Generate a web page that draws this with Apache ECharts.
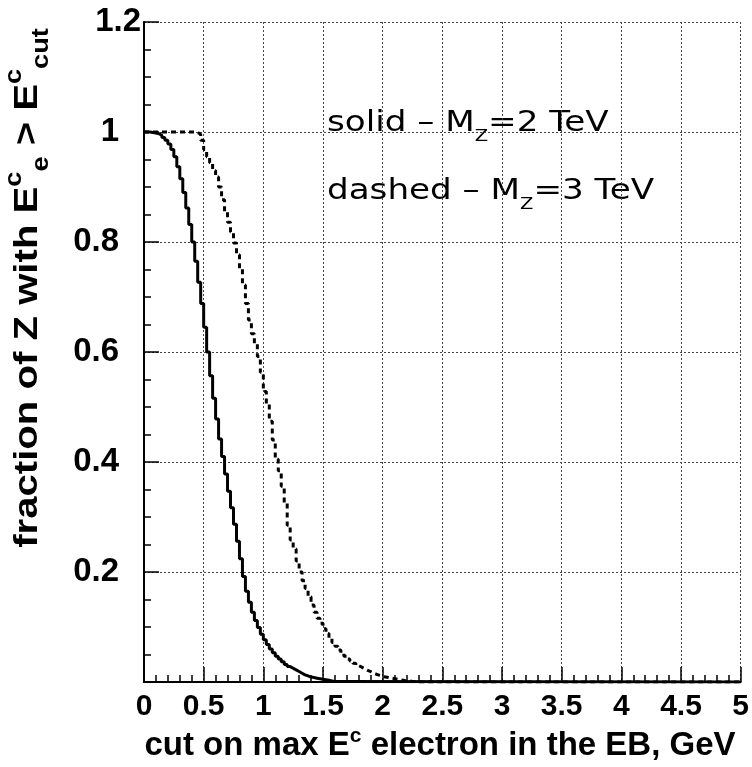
<!DOCTYPE html>
<html>
<head>
<meta charset="utf-8">
<script src="https://cdn.jsdelivr.net/npm/echarts@6/dist/echarts.min.js"></script>
<style>
  html, body { margin: 0; padding: 0; background: #fff; }
  #main { width: 752px; height: 767px; }
</style>
</head>
<body>
<div id="main"></div>
<script>
// histogram bins, low edges at i * binWidth
var binWidth = 0.025;

// solid - M_Z = 2 TeV
var solid2TeV = [
  1.000, 1.000, 0.999, 0.998, 0.997, 0.994, 0.990, 0.985, 0.978, 0.968,
  0.955, 0.937, 0.915, 0.890, 0.862, 0.832, 0.800, 0.765, 0.727, 0.688,
  0.645, 0.600, 0.557, 0.516, 0.478, 0.442, 0.410, 0.378, 0.347, 0.317,
  0.287, 0.256, 0.224, 0.192, 0.165, 0.145, 0.127, 0.112, 0.099, 0.087,
  0.077, 0.068, 0.060, 0.053, 0.047, 0.042, 0.037, 0.032, 0.028, 0.025,
  0.022, 0.019, 0.016, 0.013, 0.011, 0.009, 0.008, 0.007, 0.006, 0.005,
  0.004, 0.003, 0.002, 0.001, 0.001, 0.000
];

// dashed - M_Z = 3 TeV
var dashed3TeV = [
  1.000, 1.000, 1.000, 1.000, 1.000, 1.000, 1.000, 1.000, 1.000, 1.000,
  1.000, 1.000, 1.000, 1.000, 1.000, 1.000, 1.000, 0.999, 0.996, 0.985,
  0.968, 0.955, 0.944, 0.930, 0.918, 0.900, 0.877, 0.855, 0.836, 0.818,
  0.798, 0.777, 0.752, 0.722, 0.688, 0.658, 0.633, 0.615, 0.592, 0.563,
  0.528, 0.505, 0.474, 0.440, 0.405, 0.384, 0.356, 0.326, 0.285, 0.258,
  0.242, 0.220, 0.200, 0.184, 0.170, 0.155, 0.140, 0.127, 0.116, 0.107,
  0.097, 0.088, 0.080, 0.072, 0.065, 0.058, 0.052, 0.047, 0.042, 0.038,
  0.034, 0.030, 0.027, 0.024, 0.021, 0.019, 0.016, 0.014, 0.012, 0.010,
  0.009, 0.008, 0.007, 0.006, 0.005, 0.004, 0.003, 0.002, 0.002, 0.001,
  0.001, 0.000, 0.000
];

var xTicks = [0, 0.5, 1, 1.5, 2, 2.5, 3, 3.5, 4, 4.5, 5];
var yTicks = [0.2, 0.4, 0.6, 0.8, 1, 1.2];
var xMax = 5;

// turn bin contents into step points
function toSteps(vals) {
  var pts = [];
  for (var i = 0; i < vals.length; i++) {
    pts.push([i * binWidth, vals[i]]);
  }
  pts.push([xMax, vals[vals.length - 1]]);
  return pts;
}

var myChart = echarts.init(document.getElementById('main'));

var labelFont = 'Liberation Sans';
var gridStyle = { color: '#444', type: [2, 2], width: 1 };

option = {
  animation: false,
  backgroundColor: '#fff',
  grid: { left: 144, top: 22, right: 9, bottom: 85 },
  xAxis: {
    type: 'value',
    min: 0, max: xMax, interval: 0.5,
    axisLine: { show: true, onZero: false, lineStyle: { color: '#000', width: 2 } },
    axisTick: { show: true, inside: true, length: 15, lineStyle: { color: '#000', width: 1.5 } },
    minorTick: { show: true, splitNumber: 5, length: 7, lineStyle: { color: '#000', width: 1.5 } },
    splitLine: { show: true, lineStyle: gridStyle },
    axisLabel: {
      margin: 10, color: '#000', fontFamily: labelFont, fontWeight: 'bold', fontSize: 30,
      formatter: function (v) { return xTicks.indexOf(v) >= 0 ? String(v) : ''; }
    }
  },
  yAxis: [{
    type: 'value',
    min: 0, max: 1.2, interval: 0.2,
    axisLine: { show: true, onZero: false, lineStyle: { color: '#000', width: 2 } },
    axisTick: { show: true, inside: true, length: 15, lineStyle: { color: '#000', width: 1.5 } },
    minorTick: { show: true, splitNumber: 4, length: 7, lineStyle: { color: '#000', width: 1.5 } },
    splitLine: { show: true, lineStyle: gridStyle },
    axisLabel: {
      margin: 3, color: '#000', fontFamily: labelFont, fontWeight: 'bold', fontSize: 33,
      formatter: function (v) {
        var r = Math.round(v * 10) / 10;
        if (yTicks.indexOf(r) < 0) return '';
        // ROOT pushes the top label right
        return r === 1.2 ? '{v|' + r + '}' : '{v|' + r + '}{sp|}';
      },
      rich: {
        v: { fontFamily: labelFont, fontWeight: 'bold', fontSize: 33, color: '#000' },
        sp: { width: 22 }
      }
    }
  }, {
    type: 'value', position: 'right',
    min: 0, max: 1.2,
    axisLine: { show: true, lineStyle: { color: '#000', width: 1.5 } },
    axisTick: { show: false }, axisLabel: { show: false }, splitLine: { show: false }
  }],
  series: [{
    name: 'solid',
    type: 'line',
    step: 'end',
    symbol: 'none',
    data: toSteps(solid2TeV),
    lineStyle: { color: '#000', width: 3 }
  }, {
    name: 'dashed',
    type: 'line',
    step: 'end',
    symbol: 'none',
    data: toSteps(dashed3TeV),
    lineStyle: { color: '#000', width: 3, type: [5, 4] }
  }],
  graphic: [{
    type: 'text', x: 327, y: 123, scaleX: 1.22,
    style: {
      text: '{a|solid – M}{s|Z}{a|=2 TeV}',
      x: 0, y: 0, align: 'left', verticalAlign: 'middle',
      rich: {
        a: { fontFamily: 'DejaVu Sans', fontSize: 28, fill: '#000', lineHeight: 30, verticalAlign: 'bottom' },
        s: { fontFamily: 'DejaVu Sans', fontSize: 16, fill: '#000', lineHeight: 30, verticalAlign: 'bottom', padding: [0, 0, -7, 0] }
      }
    }
  }, {
    type: 'text', x: 327, y: 191, scaleX: 1.22,
    style: {
      text: '{a|dashed – M}{s|Z}{a|=3 TeV}',
      x: 0, y: 0, align: 'left', verticalAlign: 'middle',
      rich: {
        a: { fontFamily: 'DejaVu Sans', fontSize: 28, fill: '#000', lineHeight: 30, verticalAlign: 'bottom' },
        s: { fontFamily: 'DejaVu Sans', fontSize: 16, fill: '#000', lineHeight: 30, verticalAlign: 'bottom', padding: [0, 0, -7, 0] }
      }
    }
  }, {
    // y axis title
    type: 'text', x: 28, y: 288, rotation: Math.PI / 2, scaleX: 1.18,
    style: {
      text: '{a|fraction of Z with E}{sup|c}{sub|e}{a| > E}{sup|c}{sub|cut}',
      x: 0, y: 0, align: 'center', verticalAlign: 'middle',
      rich: {
        a: { fontFamily: labelFont, fontWeight: 'bold', fontSize: 34, fill: '#000', lineHeight: 50, verticalAlign: 'middle' },
        sup: { fontFamily: labelFont, fontWeight: 'bold', fontSize: 23, fill: '#000', lineHeight: 50, verticalAlign: 'top' },
        sub: { fontFamily: labelFont, fontWeight: 'bold', fontSize: 23, fill: '#000', lineHeight: 50, verticalAlign: 'bottom' }
      }
    }
  }, {
    // x axis title
    type: 'text', x: 440, y: 746, scaleX: 1.0,
    style: {
      text: '{a|cut on max E}{sup|c}{a| electron in the EB, GeV}',
      x: 0, y: 0, align: 'center', verticalAlign: 'middle',
      rich: {
        a: { fontFamily: labelFont, fontWeight: 'bold', fontSize: 33, fill: '#000', lineHeight: 40, verticalAlign: 'middle' },
        sup: { fontFamily: labelFont, fontWeight: 'bold', fontSize: 21, fill: '#000', lineHeight: 40, verticalAlign: 'top' }
      }
    }
  }]
};
myChart.setOption(option);
</script>
</body>
</html>
